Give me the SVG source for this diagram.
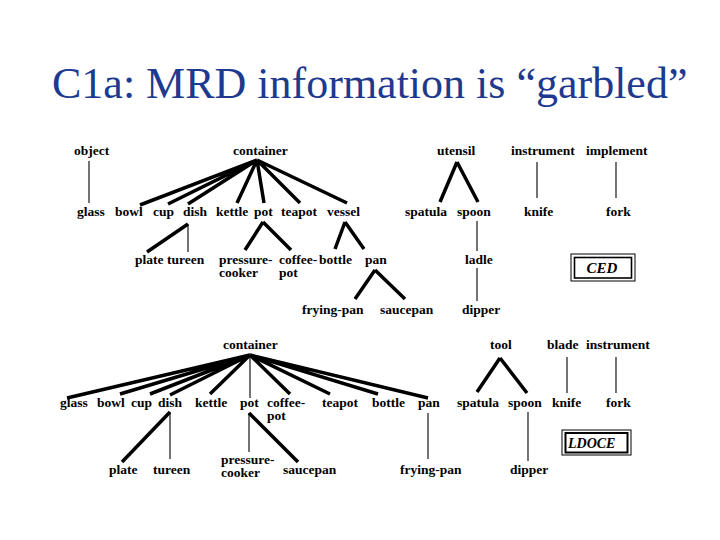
<svg xmlns="http://www.w3.org/2000/svg" width="720" height="540" viewBox="0 0 720 540">
<style>
.title{font-family:'Liberation Serif','Times New Roman',Times,'Noto Serif','DejaVu Serif',FreeSerif,serif;font-size:44px;fill:#1d3a8f}
.t{font-family:'Liberation Serif','Times New Roman',Times,'Noto Serif','DejaVu Serif',FreeSerif,serif;font-weight:bold;font-size:13.5px;fill:#000}
.src{font-family:'Liberation Serif','Times New Roman',Times,'Noto Serif','DejaVu Serif',FreeSerif,serif;font-weight:bold;font-style:italic;fill:#000}
.thick{stroke:#000;stroke-width:3.5;fill:none}
.thin{stroke:#000;stroke-width:1.1;fill:none}
.box{fill:none;stroke:#000}
</style>
<rect width="720" height="540" fill="#fff"/>
<text class="title" x="52" y="98" font-family="Liberation Serif, serif">C1a: MRD information is “garbled”</text>

<g id="connectors">
  <line class="thin" x1="89" y1="161" x2="89" y2="203"/>
  <path class="thick" d="M257,160 L140,205 M257,160 L168,204 M257,160 L188,204 M257,160 L237,203 M257,160 L264,203 M257,160 L300,203 M257,160 L347,203"/>
  <path class="thick" d="M457,162 L440,202 M457,162 L478,202"/>
  <line class="thin" x1="537" y1="162" x2="537" y2="198"/>
  <line class="thin" x1="616" y1="162" x2="616" y2="198"/>
  <path class="thick" d="M188,224 L147,252"/>
  <line class="thin" x1="188" y1="224" x2="188" y2="252"/>
  <path class="thick" d="M263,222 L245,250 M263,222 L291,250"/>
  <path class="thick" d="M345,222 L335,249 M345,222 L364,249"/>
  <line class="thin" x1="477" y1="221" x2="477" y2="251"/>
  <line class="thin" x1="477" y1="268" x2="477" y2="301"/>
  <path class="thick" d="M375,270 L355,299 M375,270 L405,299"/>
  <path class="thick" d="M250,355 L67,398 M250,355 L120,394 M250,355 L150,394 M250,355 L170,395 M250,355 L210,394 M250,355 L290,394 M250,355 L330,394 M250,355 L378,394 M250,355 L428,398"/>
  <line class="thin" x1="250" y1="355" x2="250" y2="398"/>
  <path class="thick" d="M500,358 L477,392 M500,358 L527,393"/>
  <line class="thin" x1="567" y1="357" x2="567" y2="393"/>
  <line class="thin" x1="616" y1="357" x2="616" y2="393"/>
  <path class="thick" d="M170,412 L122,462"/>
  <line class="thin" x1="170" y1="412" x2="170" y2="459"/>
  <path class="thick" d="M249,413 L298,462"/>
  <line class="thin" x1="249" y1="413" x2="249" y2="452"/>
  <line class="thin" x1="428" y1="413" x2="428" y2="459"/>
  <line class="thin" x1="528" y1="412" x2="528" y2="461"/>
</g>

<g id="ced-object"><text class="t" x="74" y="155">object</text></g>
<g id="ced-container"><text class="t" x="233" y="155">container</text></g>
<g id="ced-utensil"><text class="t" x="437" y="155">utensil</text></g>
<g id="ced-instrument"><text class="t" x="511" y="155">instrument</text></g>
<g id="ced-implement"><text class="t" x="586" y="155">implement</text></g>
<g id="ced-glass"><text class="t" x="77" y="216">glass</text></g>
<g id="ced-bowl"><text class="t" x="115" y="216">bowl</text></g>
<g id="ced-cup"><text class="t" x="153" y="216">cup</text></g>
<g id="ced-dish"><text class="t" x="183" y="216">dish</text></g>
<g id="ced-kettle"><text class="t" x="216" y="216">kettle</text></g>
<g id="ced-pot"><text class="t" x="254" y="216">pot</text></g>
<g id="ced-teapot"><text class="t" x="281" y="216">teapot</text></g>
<g id="ced-vessel"><text class="t" x="327" y="216">vessel</text></g>
<g id="ced-spatula"><text class="t" x="405" y="216">spatula</text></g>
<g id="ced-spoon"><text class="t" x="457" y="216">spoon</text></g>
<g id="ced-knife"><text class="t" x="524" y="216">knife</text></g>
<g id="ced-fork"><text class="t" x="606" y="216">fork</text></g>
<g id="ced-plate"><text class="t" x="135" y="264">plate</text></g>
<g id="ced-tureen"><text class="t" x="167" y="264">tureen</text></g>
<g id="ced-pressure-cooker"><text class="t" x="219" y="264">pressure-<tspan x="219" y="277">cooker</tspan></text></g>
<g id="ced-coffee-pot"><text class="t" x="279" y="264">coffee-<tspan x="279" y="277">pot</tspan></text></g>
<g id="ced-bottle"><text class="t" x="319" y="264">bottle</text></g>
<g id="ced-pan"><text class="t" x="365" y="264">pan</text></g>
<g id="ced-ladle"><text class="t" x="465" y="264">ladle</text></g>
<g id="ced-frying-pan"><text class="t" x="302" y="314">frying-pan</text></g>
<g id="ced-saucepan"><text class="t" x="380" y="314">saucepan</text></g>
<g id="ced-dipper"><text class="t" x="462" y="314">dipper</text></g>
<g id="ced-label">
  <rect class="box" x="571" y="254" width="64" height="27" stroke-width="1"/>
  <rect class="box" x="574.5" y="257.5" width="57" height="20.5" stroke-width="1.6"/>
  <text class="src" x="602" y="273" font-size="15" text-anchor="middle">CED</text>
</g>

<g id="ldoce-container"><text class="t" x="223" y="349">container</text></g>
<g id="ldoce-tool"><text class="t" x="490" y="349">tool</text></g>
<g id="ldoce-blade"><text class="t" x="547" y="349">blade</text></g>
<g id="ldoce-instrument"><text class="t" x="586" y="349">instrument</text></g>
<g id="ldoce-glass"><text class="t" x="60" y="407">glass</text></g>
<g id="ldoce-bowl"><text class="t" x="97" y="407">bowl</text></g>
<g id="ldoce-cup"><text class="t" x="131" y="407">cup</text></g>
<g id="ldoce-dish"><text class="t" x="158" y="407">dish</text></g>
<g id="ldoce-kettle"><text class="t" x="195" y="407">kettle</text></g>
<g id="ldoce-pot"><text class="t" x="240" y="407">pot</text></g>
<g id="ldoce-coffee-pot"><text class="t" x="267" y="407">coffee-<tspan x="267" y="420">pot</tspan></text></g>
<g id="ldoce-teapot"><text class="t" x="322" y="407">teapot</text></g>
<g id="ldoce-bottle"><text class="t" x="372" y="407">bottle</text></g>
<g id="ldoce-pan"><text class="t" x="418" y="407">pan</text></g>
<g id="ldoce-spatula"><text class="t" x="457" y="407">spatula</text></g>
<g id="ldoce-spoon"><text class="t" x="508" y="407">spoon</text></g>
<g id="ldoce-knife"><text class="t" x="552" y="407">knife</text></g>
<g id="ldoce-fork"><text class="t" x="606" y="407">fork</text></g>
<g id="ldoce-plate"><text class="t" x="109" y="474">plate</text></g>
<g id="ldoce-tureen"><text class="t" x="153" y="474">tureen</text></g>
<g id="ldoce-pressure-cooker"><text class="t" x="221" y="464">pressure-<tspan x="221" y="477">cooker</tspan></text></g>
<g id="ldoce-saucepan"><text class="t" x="283" y="474">saucepan</text></g>
<g id="ldoce-frying-pan"><text class="t" x="400" y="474">frying-pan</text></g>
<g id="ldoce-dipper"><text class="t" x="510" y="474">dipper</text></g>
<g id="ldoce-label">
  <rect class="box" x="562" y="430" width="69" height="25" stroke-width="1"/>
  <rect class="box" x="565.5" y="433" width="62" height="19.5" stroke-width="2"/>
  <text class="src" x="568" y="448" font-size="14">LDOCE</text>
</g>
</svg>
